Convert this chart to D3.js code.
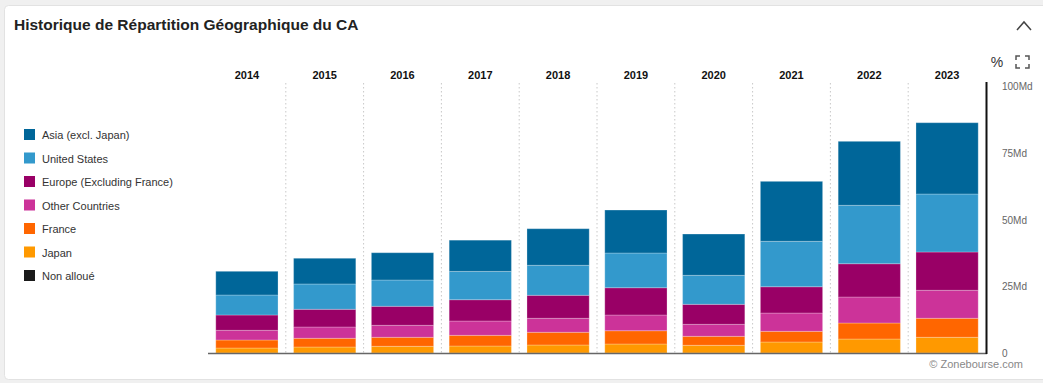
<!DOCTYPE html>
<html>
<head>
<meta charset="utf-8">
<script src="https://cdn.jsdelivr.net/npm/d3@7"></script>
<style>
  html, body { margin: 0; padding: 0; background: #f0f0f0; }
  body { width: 1043px; height: 383px; overflow: hidden; font-family: "Liberation Sans", Arial, sans-serif; }
</style>
</head>
<body>
<svg id="chart" width="1043" height="383"></svg>
<script>
const years = ["2014","2015","2016","2017","2018","2019","2020","2021","2022","2023"];
const seriesNames = ["Asia (excl. Japan)","United States","Europe (Excluding France)","Other Countries","France","Japan","Non alloué"];
const seriesColors = ["#006699","#3399cc","#990066","#cc3399","#ff6600","#ff9900","#1a1a1a"];
// values in billions (Md), stacked bottom-up: Japan, France, Other, Europe, US, Asia
const japan   = [1.87, 2.25, 2.51, 2.62, 3.00, 3.37, 2.88, 4.12, 5.24, 5.88];
const france  = [3.00, 3.26, 3.37, 4.00, 4.76, 4.98, 3.37, 4.00, 5.99, 7.12];
const other   = [3.63, 4.23, 4.49, 5.36, 5.24, 5.88, 4.49, 6.85, 9.74, 10.49];
const europe  = [5.73, 6.63, 7.12, 7.98, 8.61, 10.22, 7.49, 9.85, 12.47, 14.34];
const us      = [7.49, 9.48, 9.85, 10.60, 11.24, 13.00, 10.86, 17.00, 21.87, 21.72];
const asia    = [8.88, 9.63, 10.22, 11.70, 13.70, 16.10, 15.47, 22.47, 23.97, 26.70];
const nonAlloue = [0, 0, 0, 0, 0, 0, 0, 0, 0, 0];
const yTicks = [0, 25, 50, 75, 100];
const yTickLabels = ["0", "25Md", "50Md", "75Md", "100Md"];

const svg = d3.select("#chart");

// card
svg.append("rect").attr("x", 4.5).attr("y", 5.5).attr("width", 1050).attr("height", 374)
  .attr("rx", 4).attr("fill", "#fff").attr("stroke", "#e2e2e2");

svg.append("text").attr("x", 14).attr("y", 30)
  .attr("font-size", 15.5).attr("font-weight", "bold").attr("fill", "#222")
  .text("Historique de Répartition Géographique du CA");

// chevron
svg.append("path").attr("d", "M1017,30 L1024,22 L1031,30")
  .attr("fill", "none").attr("stroke", "#444").attr("stroke-width", 1.5);

// % and fullscreen icons
svg.append("text").attr("x", 997).attr("y", 67).attr("text-anchor", "middle")
  .attr("font-size", 14).attr("fill", "#333").text("%");
const fs = svg.append("g").attr("fill", "none").attr("stroke", "#555").attr("stroke-width", 1.5);
fs.append("path").attr("d", "M1016,60 L1016,56 L1020,56 M1025,56 L1029,56 L1029,60 M1029,64 L1029,68 L1025,68 M1020,68 L1016,68 L1016,64");

// scales
const x = d3.scaleBand().domain(years).range([208, 986]).paddingInner(0.2).paddingOuter(0.1);
const y = d3.scaleLinear().domain([0, 100]).range([353, 86]);

// dotted separators
const step = x.step();
svg.append("g").selectAll("line").data(years.slice(1)).join("line")
  .attr("x1", d => x(d) - x.paddingInner() * step / 2)
  .attr("x2", d => x(d) - x.paddingInner() * step / 2)
  .attr("y1", 83).attr("y2", 353)
  .attr("stroke", "#c8c8c8").attr("stroke-dasharray", "1.5,2.5").attr("stroke-width", 1);

// year labels
svg.append("g").selectAll("text").data(years).join("text")
  .attr("x", d => x(d) + x.bandwidth() / 2).attr("y", 79)
  .attr("text-anchor", "middle").attr("font-size", 11).attr("font-weight", "bold").attr("fill", "#111")
  .text(d => d);

// stack
const table = years.map((yr, i) => ({
  year: yr, japan: japan[i], france: france[i], other: other[i], europe: europe[i], us: us[i], asia: asia[i], nonAlloue: nonAlloue[i]
}));
const keys = ["nonAlloue", "japan", "france", "other", "europe", "us", "asia"];
const colorByKey = {
  asia: seriesColors[0], us: seriesColors[1], europe: seriesColors[2], other: seriesColors[3],
  france: seriesColors[4], japan: seriesColors[5], nonAlloue: seriesColors[6]
};
const stacked = d3.stack().keys(keys)(table);

svg.append("g").selectAll("g").data(stacked).join("g")
  .attr("fill", d => colorByKey[d.key])
  .selectAll("rect").data(d => d.filter(p => p[1] - p[0] > 0)).join("rect")
  .attr("x", d => x(d.data.year))
  .attr("width", x.bandwidth())
  .attr("y", d => y(d[1]))
  .attr("height", d => y(d[0]) - y(d[1]))
  .attr("stroke", "rgba(255,255,255,0.25)").attr("stroke-width", 1);

// axes lines
svg.append("line").attr("x1", 208).attr("x2", 987).attr("y1", 353.5).attr("y2", 353.5)
  .attr("stroke", "#666").attr("stroke-width", 1.5);
svg.append("line").attr("x1", 986.5).attr("x2", 986.5).attr("y1", 82).attr("y2", 354)
  .attr("stroke", "#111").attr("stroke-width", 2);

// y tick labels
svg.append("g").selectAll("text").data(yTicks).join("text")
  .attr("x", 1002).attr("y", d => y(d) + 4)
  .attr("font-size", 10).attr("fill", "#666")
  .text((d, i) => yTickLabels[i]);

// legend
const legend = svg.append("g").selectAll("g").data(seriesNames).join("g")
  .attr("transform", (d, i) => `translate(24, ${135 + i * 23.5})`);
legend.append("rect").attr("x", 0).attr("y", -6).attr("width", 11).attr("height", 11)
  .attr("fill", (d, i) => seriesColors[i]);
legend.append("text").attr("x", 18).attr("y", 4).attr("font-size", 11).attr("fill", "#333").text(d => d);

// footer
svg.append("text").attr("x", 1023).attr("y", 368).attr("text-anchor", "end")
  .attr("font-size", 11).attr("fill", "#888").text("© Zonebourse.com");
</script>
</body>
</html>
